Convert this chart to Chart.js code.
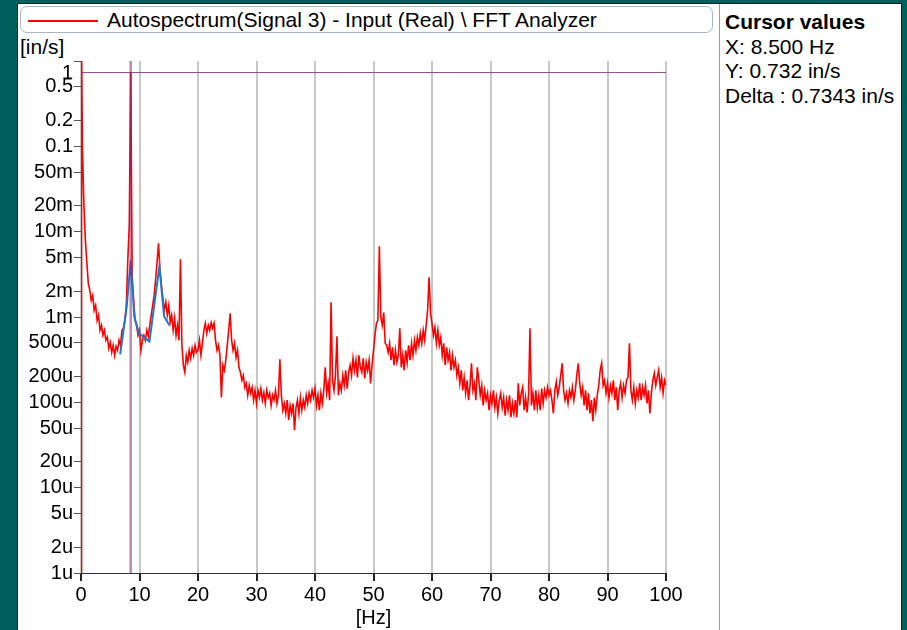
<!DOCTYPE html>
<html>
<head>
<meta charset="utf-8">
<script src="https://cdn.jsdelivr.net/npm/chart.js@4/dist/chart.umd.min.js"></script>
<style>
  html, body { margin: 0; padding: 0; }
  body {
    width: 907px; height: 630px; overflow: hidden; position: relative;
    background: #00605e;
    font-family: "Liberation Sans", Arial, sans-serif; color: #000;
  }
  #frame {
    position: absolute; left: 17px; top: 3px; width: 883px; height: 640px;
    background: #fff; border: 1px solid #0d2626;
  }
  #legend {
    position: absolute; left: 20px; top: 6px; width: 691px; height: 25px;
    border: 1px solid #a9b6c9; border-radius: 7px; background: #fff;
  }
  #legend .swatch { position: absolute; left: 7px; top: 13px; width: 70px; height: 2px; background: #ff0000; }
  #legend .label { position: absolute; left: 86px; top: 1px; font-size: 21px; line-height: 24px; white-space: nowrap; }
  #unit { position: absolute; left: 20px; top: 35px; font-size: 21px; line-height: 24px; }
  #sep { position: absolute; left: 719px; top: 4px; width: 1px; height: 626px; background: #9a9a9a; }
  #cursor { position: absolute; left: 725px; top: 10px; font-size: 21px; line-height: 24.5px; white-space: nowrap; }
  #cursor b { font-weight: bold; }
  #chart { position: absolute; left: 19px; top: 36px; }
</style>
</head>
<body>
<div id="frame"></div>
<div id="legend"><div class="swatch"></div><div class="label">Autospectrum(Signal 3) - Input (Real) \ FFT Analyzer</div></div>
<div id="unit">[in/s]</div>
<div id="sep"></div>
<div id="cursor">
  <b>Cursor values</b><br>
  X: 8.500 Hz<br>
  Y: 0.732 in/s<br>
  Delta : 0.7343 in/s
</div>
<canvas id="chart" width="699" height="594"></canvas>

<script>
// axis ticks
const yTickValues = [1, 0.5, 0.2, 0.1, 0.05, 0.02, 0.01, 0.005, 0.002, 0.001,
  5e-4, 2e-4, 1e-4, 5e-5, 2e-5, 1e-5, 5e-6, 2e-6, 1e-6];
const yTickLabels = ["1", "0.5", "0.2", "0.1", "50m", "20m", "10m", "5m", "2m", "1m",
  "500u", "200u", "100u", "50u", "20u", "10u", "5u", "2u", "1u"];

// DC bin and first leakage point (in/s)
const dcHz = [0, 0.1];
const dcAmp = [1e-7, 1.5];

// red spectrum, 0.25 Hz bins from 0.25 Hz to 100 Hz, values in micro in/s
const redStepHz = 0.25;
const redMicro = [
  90000, 20400, 7900, 4380, 2480, 2060, 1570, 1790, 1200, 1370, 912, 1050,
  700, 800, 610, 700, 533, 580, 430, 505, 385, 466, 355, 453,
  407, 533, 466, 700, 740, 912, 1370, 4640, 12000, 732000, 3000, 1570,
  912, 800, 610, 700, 407, 533, 610, 533, 700, 594, 800, 1050,
  1370, 1790, 2700, 4380, 7310, 3540, 2350, 1650, 1200, 1490, 1050, 1370,
  866, 1050, 700, 970, 610, 800, 533, 4750, 466, 271, 225, 355,
  294, 407, 328, 430, 355, 466, 385, 407,
  // 20.25 - 40
  533, 356, 492, 698, 844, 644, 800, 698, 860, 737, 844, 533,
  407, 466, 356, 114, 272, 237, 311, 466, 698, 1105, 533, 407,
  492, 337, 407, 257, 225, 181, 207, 150, 167, 121, 158, 128,
  150, 106, 138, 97, 138, 114, 145, 106, 130, 97, 138, 114,
  128, 92, 121, 106, 138, 97, 121, 320, 121, 81, 97, 74,
  106, 62, 92, 74, 97, 47, 87, 106, 74, 114, 81, 106,
  87, 121, 97, 128, 106, 138, 114, 145,
  // 40.25 - 60
  92, 121, 81, 128, 97, 138, 257, 128, 167, 106, 1490, 181,
  138, 207, 594, 121, 167, 138, 207, 158, 237, 145, 225, 272,
  207, 328, 237, 311, 196, 356, 257, 225, 328, 190, 294, 237,
  311, 167, 272, 407, 610, 844, 915, 6740, 1000, 800, 1130, 492,
  466, 385, 492, 311, 441, 272, 407, 294, 356, 737, 257, 356,
  237, 407, 294, 466, 311, 492, 356, 533, 407, 578, 466, 644,
  492, 698, 533, 800, 1200, 2920, 1105, 844,
  // 60.25 - 80
  610, 757, 492, 698, 466, 578, 356, 492, 272, 441, 311, 385,
  237, 356, 257, 311, 207, 257, 167, 237, 138, 196, 128, 181,
  106, 158, 287, 138, 167, 106, 257, 181, 121, 158, 92, 138,
  106, 128, 81, 121, 97, 138, 87, 114, 74, 106, 128, 87,
  114, 70, 106, 81, 121, 67, 97, 74, 106, 67, 167, 92,
  128, 150, 81, 114, 76, 121, 737, 92, 128, 81, 138, 87,
  121, 81, 145, 97, 138, 114, 150, 121,
  // 80.25 - 100
  138, 106, 74, 138, 174, 121, 150, 207, 287, 138, 106, 128,
  97, 138, 114, 150, 106, 138, 207, 287, 167, 121, 150, 92,
  138, 81, 128, 74, 106, 60, 114, 81, 121, 158, 237, 287,
  158, 181, 128, 167, 114, 158, 128, 181, 106, 150, 81, 138,
  167, 114, 158, 128, 181, 196, 492, 138, 106, 150, 97, 138,
  114, 167, 106, 150, 121, 158, 97, 138, 74, 128, 181, 219,
  158, 196, 237, 150, 196, 128, 181, 158
];

// blue (coarser) spectrum around the 8.5 Hz and 13.4 Hz peaks, micro in/s
const blueHz = [6.7, 7.8, 8.5, 9.1, 9.9, 11.7, 13.4, 14.2, 15.1];
const blueMicro = [365, 1300, 4620, 1020, 644, 519, 3930, 1020, 800];

// cursor
const cursorHz = 8.5;
const cursorValue = 0.732;

const redPoints = dcHz.map((f, i) => ({ x: f, y: dcAmp[i] }))
  .concat(redMicro.map((v, i) => ({ x: (i + 1) * redStepHz, y: v / 1e6 })));
const bluePoints = blueHz.map((f, i) => ({ x: f, y: blueMicro[i] / 1e6 }));

const tickFont = { family: '"Liberation Sans", Arial, sans-serif', size: 20 };

new Chart(document.getElementById("chart"), {
  type: 'line',
  data: {
    datasets: [
      {
        label: 'cursor x',
        data: [{ x: cursorHz, y: 1e-6 }, { x: cursorHz, y: 1 }],
        borderColor: 'rgba(128,40,128,0.55)',
        borderWidth: 2.5,
        pointRadius: 0,
        order: 0
      },
      {
        label: 'coarse',
        data: bluePoints,
        borderColor: '#1f78c8',
        borderWidth: 2,
        pointRadius: 0,
        order: 1
      },
      {
        label: 'Autospectrum(Signal 3) - Input (Real) \\ FFT Analyzer',
        data: redPoints,
        borderColor: '#ff0000',
        borderWidth: 1.6,
        pointRadius: 0,
        order: 2
      },
      {
        label: 'cursor y',
        data: [{ x: 0, y: cursorValue }, { x: 100, y: cursorValue }],
        borderColor: '#8b4f8b',
        borderWidth: 1,
        pointRadius: 0,
        order: 3
      }
    ]
  },
  options: {
    responsive: false,
    animation: false,
    layout: { padding: { top: 25, right: 52, left: 0, bottom: 0 } },
    plugins: { legend: { display: false }, tooltip: { enabled: false } },
    elements: { line: { tension: 0 } },
    scales: {
      x: {
        type: 'linear', min: 0, max: 100,
        ticks: { stepSize: 10, color: '#000', font: tickFont, padding: 2, maxRotation: 0 },
        grid: { color: '#c8c8c8', lineWidth: 2, tickColor: '#222', tickLength: 8 },
        border: { color: '#333', width: 1 },
        title: { display: true, text: '[Hz]', color: '#000', font: tickFont, padding: 0 },
        afterFit: s => { s.height = 57; }
      },
      y: {
        type: 'logarithmic', min: 1e-6, max: 1,
        afterBuildTicks: s => { s.ticks = yTickValues.map(v => ({ value: v })); },
        ticks: { autoSkip: false, color: '#000', font: tickFont, padding: 1,
          // the top label sits just under its tick, as in the original
          callback: (v, i) => i === 0 ? ['', yTickLabels[i]] : yTickLabels[i] },
        grid: { drawOnChartArea: false, tickColor: '#555', tickLength: 7 },
        border: { color: '#222', width: 1 },
        afterFit: s => { s.width = 62; }
      }
    }
  }
});
</script>
</body>
</html>
